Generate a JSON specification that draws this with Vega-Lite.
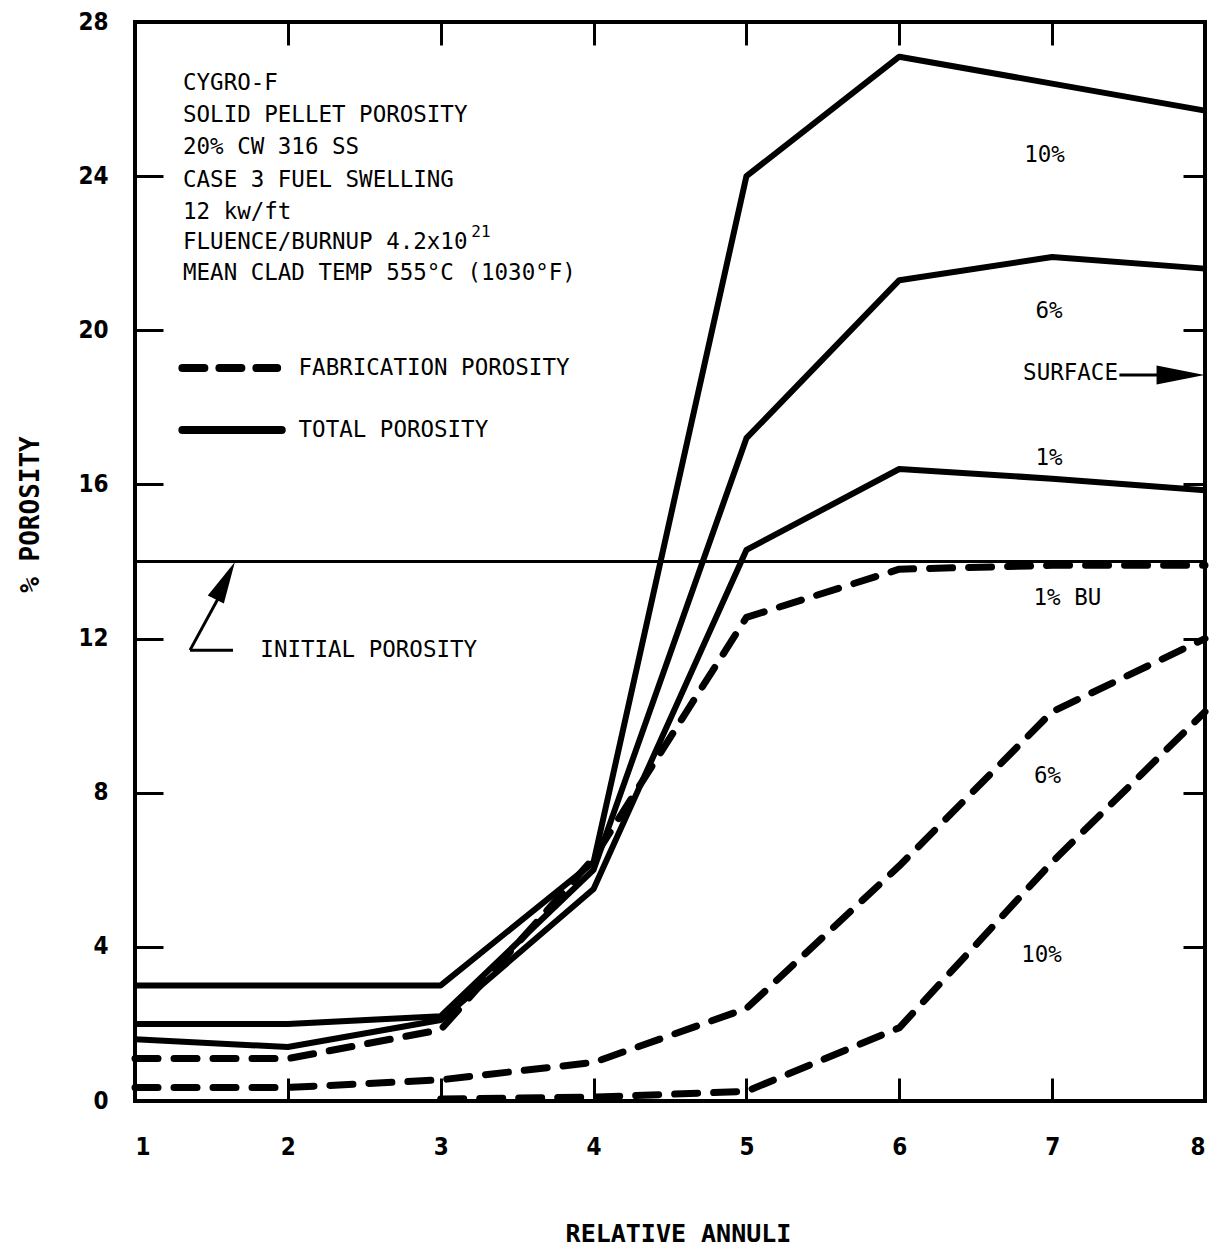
{
  "$schema": "https://vega.github.io/schema/vega-lite/v6.json",
  "width": 1070,
  "height": 1079,
  "autosize": "none",
  "padding": {"left": 135, "top": 22, "right": 4, "bottom": 149},
  "background": "white",
  "config": {
    "view": {"stroke": "black", "strokeWidth": 4},
    "axis": {"domain": false, "grid": false, "tickColor": "black", "tickWidth": 3, "labelColor": "black", "titleColor": "black"}
  },
  "datasets": {
    "curves": [
      {"series": "T10", "kind": "total", "x": 1, "y": 3.0},
      {"series": "T10", "kind": "total", "x": 2, "y": 3.0},
      {"series": "T10", "kind": "total", "x": 3, "y": 3.0},
      {"series": "T10", "kind": "total", "x": 4, "y": 6.2},
      {"series": "T10", "kind": "total", "x": 5, "y": 24.0},
      {"series": "T10", "kind": "total", "x": 6, "y": 27.1},
      {"series": "T10", "kind": "total", "x": 7, "y": 26.4},
      {"series": "T10", "kind": "total", "x": 8, "y": 25.7},
      {"series": "T6", "kind": "total", "x": 1, "y": 2.0},
      {"series": "T6", "kind": "total", "x": 2, "y": 2.0},
      {"series": "T6", "kind": "total", "x": 3, "y": 2.2},
      {"series": "T6", "kind": "total", "x": 4, "y": 6.0},
      {"series": "T6", "kind": "total", "x": 5, "y": 17.2},
      {"series": "T6", "kind": "total", "x": 6, "y": 21.3},
      {"series": "T6", "kind": "total", "x": 7, "y": 21.9},
      {"series": "T6", "kind": "total", "x": 8, "y": 21.6},
      {"series": "T1", "kind": "total", "x": 1, "y": 1.6},
      {"series": "T1", "kind": "total", "x": 2, "y": 1.4},
      {"series": "T1", "kind": "total", "x": 3, "y": 2.1},
      {"series": "T1", "kind": "total", "x": 4, "y": 5.5},
      {"series": "T1", "kind": "total", "x": 5, "y": 14.3},
      {"series": "T1", "kind": "total", "x": 6, "y": 16.4},
      {"series": "T1", "kind": "total", "x": 7, "y": 16.15},
      {"series": "T1", "kind": "total", "x": 8, "y": 15.85},
      {"series": "F1", "kind": "fab", "x": 1, "y": 1.1},
      {"series": "F1", "kind": "fab", "x": 2, "y": 1.1},
      {"series": "F1", "kind": "fab", "x": 3, "y": 1.85},
      {"series": "F1", "kind": "fab", "x": 4, "y": 6.3},
      {"series": "F1", "kind": "fab", "x": 5, "y": 12.55},
      {"series": "F1", "kind": "fab", "x": 6, "y": 13.8},
      {"series": "F1", "kind": "fab", "x": 7, "y": 13.9},
      {"series": "F1", "kind": "fab", "x": 8, "y": 13.9},
      {"series": "F6", "kind": "fab", "x": 1, "y": 0.35},
      {"series": "F6", "kind": "fab", "x": 2, "y": 0.35},
      {"series": "F6", "kind": "fab", "x": 3, "y": 0.55},
      {"series": "F6", "kind": "fab", "x": 4, "y": 1.0},
      {"series": "F6", "kind": "fab", "x": 5, "y": 2.4},
      {"series": "F6", "kind": "fab", "x": 6, "y": 6.1},
      {"series": "F6", "kind": "fab", "x": 7, "y": 10.1},
      {"series": "F6", "kind": "fab", "x": 8, "y": 12.0},
      {"series": "F10", "kind": "fab", "x": 3, "y": 0.05},
      {"series": "F10", "kind": "fab", "x": 4, "y": 0.1},
      {"series": "F10", "kind": "fab", "x": 5, "y": 0.25},
      {"series": "F10", "kind": "fab", "x": 6, "y": 1.9},
      {"series": "F10", "kind": "fab", "x": 7, "y": 6.2},
      {"series": "F10", "kind": "fab", "x": 8, "y": 10.1}
    ],
    "thinRules": [
      {"name": "initial", "x": 1, "x2": 8, "y": 14, "y2": 14},
      {"name": "surfaceShaft", "x": 7.44, "x2": 7.82, "y": 18.84, "y2": 18.84},
      {"name": "initialShaft", "x": 1.36, "x2": 1.6, "y": 11.7, "y2": 13.45},
      {"name": "initialStub", "x": 1.36, "x2": 1.641, "y": 11.7, "y2": 11.7}
    ],
    "legendDashed": [{"x": 1.31, "x2": 1.93, "y": 19.02}],
    "legendSolid": [{"x": 1.31, "x2": 1.96, "y": 17.41}],
    "notesLeft": [
      {"x": 1.314, "y": 26.41, "label": "CYGRO-F"},
      {"x": 1.314, "y": 25.58, "label": "SOLID PELLET POROSITY"},
      {"x": 1.314, "y": 24.75, "label": "20% CW 316 SS"},
      {"x": 1.314, "y": 23.9, "label": "CASE 3 FUEL SWELLING"},
      {"x": 1.314, "y": 23.07, "label": "12 kw/ft"},
      {"x": 1.314, "y": 22.29, "label": "FLUENCE/BURNUP 4.2x10"},
      {"x": 1.314, "y": 21.48, "label": "MEAN CLAD TEMP 555°C (1030°F)"},
      {"x": 2.07, "y": 19.02, "label": "FABRICATION POROSITY"},
      {"x": 2.07, "y": 17.41, "label": "TOTAL POROSITY"},
      {"x": 1.82, "y": 11.7, "label": "INITIAL POROSITY"},
      {"x": 6.81, "y": 18.89, "label": "SURFACE"}
    ],
    "notesCenter": [
      {"x": 6.95, "y": 24.55, "label": "10%"},
      {"x": 6.98, "y": 20.5, "label": "6%"},
      {"x": 6.98, "y": 16.68, "label": "1%"},
      {"x": 7.1, "y": 13.05, "label": "1% BU"},
      {"x": 6.97, "y": 8.43, "label": "6%"},
      {"x": 6.93, "y": 3.79, "label": "10%"}
    ],
    "superscript": [{"x": 3.2, "y": 22.55, "label": "21"}],
    "headSurface": [{"x": 7.84, "y": 18.84}],
    "headInitial": [{"x": 1.591, "y": 13.5}],
    "frame": [{"x": 1, "y": 0}]
  },
  "layer": [
    {
      "layer": [
        {
          "data": {"name": "curves"},
          "transform": [{"filter": "datum.kind === 'total'"}],
          "mark": {"type": "line", "color": "black", "strokeWidth": 6, "strokeJoin": "round", "strokeCap": "butt"},
          "encoding": {
            "x": {
              "field": "x", "type": "quantitative",
              "scale": {"domain": [1, 8], "nice": false, "zero": false},
              "axis": {
                "values": [1, 2, 3, 4, 5, 6, 7, 8], "format": "d", "tickSize": -23, "labelFlush": true,
                "labelFont": "'DejaVu Sans Condensed', 'DejaVu Sans'", "labelFontWeight": "bold", "labelFontSize": 24, "labelPadding": 57,
                "labelBaseline": "top",
                "title": "RELATIVE ANNULI", "titleFont": "DejaVu Sans Mono", "titleFontWeight": "bold", "titleFontSize": 25,
                "titleX": 543, "titleY": 132, "titleBaseline": "middle", "titleAnchor": "start", "titleAlign": "center"
              }
            },
            "y": {
              "field": "y", "type": "quantitative",
              "scale": {"domain": [0, 28], "nice": false, "zero": false},
              "axis": {
                "values": [0, 4, 8, 12, 16, 20, 24, 28], "format": "d", "tickSize": -28, "labelFlush": false,
                "labelFont": "'DejaVu Sans Condensed', 'DejaVu Sans'", "labelFontWeight": "bold", "labelFontSize": 24, "labelPadding": 55,
                "labelAlign": "right", "labelBaseline": "middle",
                "title": "% POROSITY", "titleFont": "DejaVu Sans Mono", "titleFontWeight": "bold", "titleFontSize": 26,
                "titleX": -105, "titleY": 492, "titleBaseline": "middle", "titleAnchor": "start", "titleAlign": "center", "titleAngle": -90
              }
            },
            "detail": {"field": "series"},
            "order": {"field": "x"}
          }
        },
        {
          "data": {"name": "curves"},
          "transform": [{"filter": "datum.kind === 'fab'"}],
          "mark": {"type": "line", "color": "black", "strokeWidth": 7, "strokeDash": [23, 16], "strokeCap": "round", "strokeJoin": "round"},
          "encoding": {
            "x": {"field": "x", "type": "quantitative"},
            "y": {"field": "y", "type": "quantitative"},
            "detail": {"field": "series"},
            "order": {"field": "x"}
          }
        },
        {
          "data": {"name": "thinRules"},
          "mark": {"type": "rule", "color": "black", "strokeWidth": 3},
          "encoding": {
            "x": {"field": "x", "type": "quantitative"},
            "x2": {"field": "x2"},
            "y": {"field": "y", "type": "quantitative"},
            "y2": {"field": "y2"}
          }
        },
        {
          "data": {"name": "legendDashed"},
          "mark": {"type": "rule", "color": "black", "strokeWidth": 8, "strokeDash": [22, 15], "strokeCap": "round"},
          "encoding": {
            "x": {"field": "x", "type": "quantitative"},
            "x2": {"field": "x2"},
            "y": {"field": "y", "type": "quantitative"}
          }
        },
        {
          "data": {"name": "legendSolid"},
          "mark": {"type": "rule", "color": "black", "strokeWidth": 8, "strokeCap": "round"},
          "encoding": {
            "x": {"field": "x", "type": "quantitative"},
            "x2": {"field": "x2"},
            "y": {"field": "y", "type": "quantitative"}
          }
        },
        {
          "data": {"name": "headSurface"},
          "mark": {"type": "point", "shape": "M-1,-0.4L1,0L-1,0.4Z", "size": 2304, "filled": true, "color": "black", "opacity": 1, "strokeWidth": 0},
          "encoding": {
            "x": {"field": "x", "type": "quantitative"},
            "y": {"field": "y", "type": "quantitative"}
          }
        },
        {
          "data": {"name": "headInitial"},
          "mark": {"type": "point", "shape": "M-1,-0.43L1,0L-1,0.43Z", "size": 1764, "angle": -63, "filled": true, "color": "black", "opacity": 1, "strokeWidth": 0},
          "encoding": {
            "x": {"field": "x", "type": "quantitative"},
            "y": {"field": "y", "type": "quantitative"}
          }
        },
        {
          "data": {"name": "notesLeft"},
          "mark": {"type": "text", "align": "left", "baseline": "middle", "font": "DejaVu Sans Mono", "fontSize": 22.5, "color": "black"},
          "encoding": {
            "x": {"field": "x", "type": "quantitative"},
            "y": {"field": "y", "type": "quantitative"},
            "text": {"field": "label"}
          }
        },
        {
          "data": {"name": "notesCenter"},
          "mark": {"type": "text", "align": "center", "baseline": "middle", "font": "DejaVu Sans Mono", "fontSize": 22.5, "color": "black"},
          "encoding": {
            "x": {"field": "x", "type": "quantitative"},
            "y": {"field": "y", "type": "quantitative"},
            "text": {"field": "label"}
          }
        },
        {
          "data": {"name": "superscript"},
          "mark": {"type": "text", "align": "left", "baseline": "middle", "font": "DejaVu Sans Mono", "fontSize": 16, "color": "black"},
          "encoding": {
            "x": {"field": "x", "type": "quantitative"},
            "y": {"field": "y", "type": "quantitative"},
            "text": {"field": "label"}
          }
        }
      ]
    },
    {
      "data": {"name": "frame"},
      "mark": {"type": "point", "opacity": 0},
      "encoding": {
        "x": {
          "field": "x", "type": "quantitative",
          "axis": {"orient": "top", "values": [2, 3, 4, 5, 6, 7], "tickSize": -23, "labels": false, "title": null}
        },
        "y": {
          "field": "y", "type": "quantitative",
          "axis": {"orient": "right", "values": [4, 8, 12, 16, 20, 24], "tickSize": -22, "labels": false, "title": null}
        }
      }
    }
  ],
  "resolve": {"axis": {"x": "independent", "y": "independent"}}
}
